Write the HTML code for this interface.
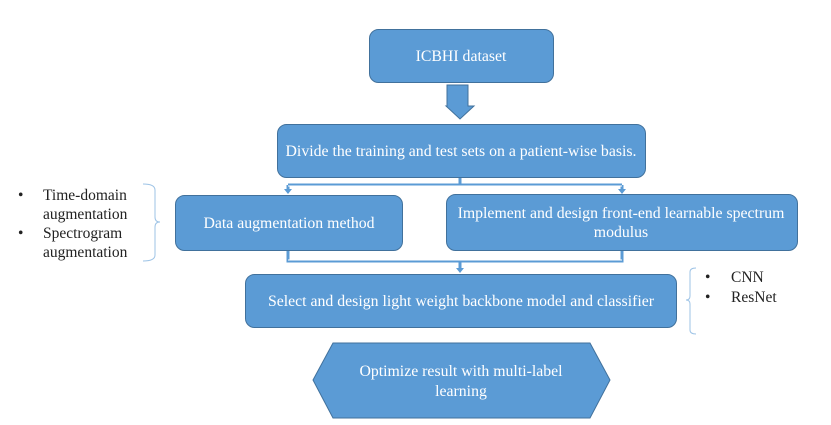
<!DOCTYPE html>
<html><head><meta charset="utf-8"><style>
html,body{margin:0;padding:0;background:#fff;width:831px;height:425px;overflow:hidden}
svg text{font-family:"Liberation Serif","DejaVu Serif",serif}
</style></head><body>
<svg width="831" height="425" viewBox="0 0 831 425" xmlns="http://www.w3.org/2000/svg">
<g fill="#5b9bd5" stroke="#41719c" stroke-width="1">
<rect x="369.5" y="29.5" width="184" height="53" rx="9"/>
<polygon points="447,85 468,85 468,106 474,106 460,119 446,106 447,106"/>
<rect x="277.5" y="124.5" width="368" height="53" rx="9"/>
<rect x="175.5" y="195.5" width="227" height="55" rx="9"/>
<rect x="446.5" y="194.5" width="351" height="56" rx="9"/>
<rect x="245.5" y="274.5" width="431" height="53" rx="9"/>
<polygon points="333,343 590,343 610,380 590,418 333,418 313,380"/>
</g>
<g fill="none" stroke="#5b9bd5" stroke-width="3">
<path d="M460 178 V185 M288 185 H622 M288 185 V191 M622 185 V191"/>
<path d="M288 251 V261 H622 V251 M460 261 V270"/>
</g>
<g fill="none" stroke="#fff" stroke-width="1">
<path d="M288 186 H622 M288 260 H622"/>
</g>
<g fill="#5b9bd5">
<polygon points="284,189 292,189 288,194"/>
<polygon points="618,189 626,189 622,194"/>
<polygon points="456,268 464,268 460,273"/>
</g>
<g fill="none" stroke="#9dc3e6" stroke-width="1">
<path d="M143 184 Q155 184 155 190 V217 Q155 222 160 222 Q155 222 155 227 V255 Q155 261 143 261"/>
<path d="M696 268 Q690 268 690 272 V296 Q690 300 686 300 Q690 300 690 304 V330 Q690 334 696 334"/>
</g>
<g fill="#fff" font-size="15.8" text-anchor="middle" font-family="Liberation Serif, serif">
<text x="461" y="61">ICBHI dataset</text>
<text x="461" y="156">Divide the training and test sets on a patient-wise basis.</text>
<text x="289" y="228">Data augmentation method</text>
<text x="621" y="218">Implement and design front-end learnable spectrum</text>
<text x="621" y="237">modulus</text>
<text x="461" y="306">Select and design light weight backbone model and classifier</text>
<text x="461" y="376">Optimize result with multi-label</text>
<text x="461" y="396">learning</text>
</g>
<g fill="#222" font-size="15.5" font-family="Liberation Serif, serif">
<text x="18" y="200">•</text><text x="43" y="200">Time-domain</text>
<text x="43" y="219">augmentation</text>
<text x="18" y="238">•</text><text x="43" y="238">Spectrogram</text>
<text x="43" y="257">augmentation</text>
<text x="705" y="282">•</text><text x="731" y="282">CNN</text>
<text x="705" y="302">•</text><text x="731" y="302">ResNet</text>
</g>
</svg>
</body></html>
